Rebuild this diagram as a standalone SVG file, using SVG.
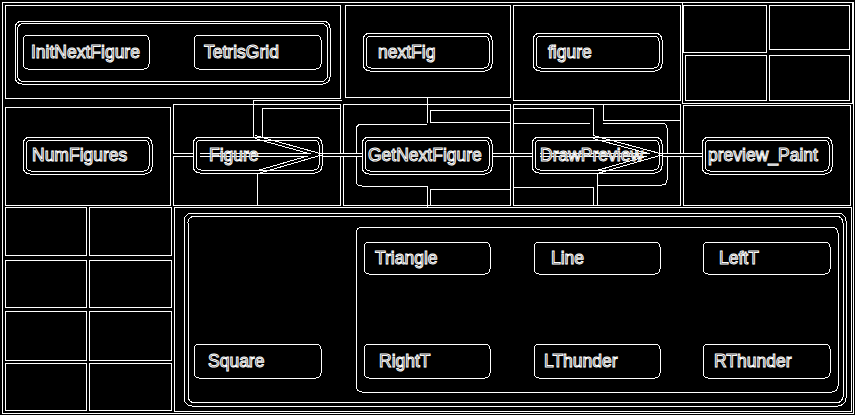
<svg xmlns="http://www.w3.org/2000/svg" xmlns:xlink="http://www.w3.org/1999/xlink" width="855" height="415" viewBox="0 0 855 415">
<style>
.ln{fill:none;stroke:#fff;stroke-width:1;shape-rendering:crispEdges}
.nd{fill:none;stroke:#fff;stroke-width:1;shape-rendering:crispEdges}
.t{font-family:"Liberation Sans",Arial,sans-serif;font-size:17.5px;fill:#000;stroke:#fff;stroke-width:1}
.cw{fill:none;stroke:#fff;stroke-width:4;shape-rendering:crispEdges}
.cb{fill:none;stroke:#000;stroke-width:2;shape-rendering:crispEdges}
</style>
<rect x="0" y="0" width="855" height="415" fill="#000"/>
<g id="cells" class="ln">
<rect x="2" y="2" width="851" height="411"/>
<rect x="5" y="5" width="335" height="93"/>
<rect x="345" y="5" width="165" height="92"/>
<rect x="513" y="5" width="167" height="95"/>
<rect x="682" y="2" width="170" height="101"/>
<rect x="683" y="5" width="83" height="47"/>
<rect x="769" y="5" width="80" height="44"/>
<rect x="685" y="55" width="81" height="45"/>
<rect x="769" y="55" width="80" height="45"/>
<rect x="5" y="107" width="165" height="98"/>
<rect x="173" y="104" width="167" height="101"/>
<rect x="343" y="104" width="167" height="101"/>
<rect x="513" y="104" width="167" height="101"/>
<rect x="683" y="105" width="167" height="100"/>
<rect x="5" y="207" width="81" height="48"/>
<rect x="89" y="207" width="82" height="48"/>
<rect x="5" y="260" width="81" height="47"/>
<rect x="89" y="260" width="82" height="47"/>
<rect x="5" y="311" width="81" height="49"/>
<rect x="89" y="311" width="82" height="49"/>
<rect x="5" y="363" width="81" height="47"/>
<rect x="89" y="363" width="82" height="47"/>
<rect x="174" y="207" width="677" height="204"/>
<path d="M253,138V100H342M262,138V108H340"/>
<path d="M257,173V205"/>
<path d="M427,97V123M430,110H510M430,122H510M430,110V122"/>
<path d="M427,186V207M430,189H510M430,189V205"/>
<path d="M513,108H593V137M513,123H590"/>
<path d="M603,105V120H680"/>
<path d="M597,172V205M513,187H593V205"/>
</g>
<g id="group-top">
<rect class="nd" x="15" y="21" width="315" height="63" rx="7"/>
<rect class="nd" x="17.5" y="23.5" width="310" height="58" rx="6"/>
</g>
<g id="group-shapes">
<rect class="nd" x="184" y="213" width="662" height="193" rx="8"/>
<rect class="nd" x="188" y="216.5" width="655" height="186" rx="6"/>
<rect class="nd" x="356" y="227" width="482" height="165" rx="6"/>
</g>
<g id="group-getnext">
<path class="nd" d="M427,124H362Q356,124 356,130V180Q356,186 362,186H427"/>
</g>
<g id="group-draw">
<path class="nd" d="M603,123H662Q667,123 667,128V180Q667,185 662,185H597"/>
</g>
<g id="connectors">
<path id="c1" d="M173,154.5H193M200,154.5H317M322,154.5H362M492,154.5H532M540,154.5H657M662,154.5H702M255,137L318,154.5L258,172M593,137L658,154.5L597,172"/>
<use xlink:href="#c1" class="cw"/>
<use xlink:href="#c1" class="cb"/>
</g>
<g id="InitNextFigure"><rect class="nd" x="23" y="35" width="126" height="34" rx="5"/><text class="t" x="31" y="58">InitNextFigure</text></g>
<g id="TetrisGrid"><rect class="nd" x="194" y="35" width="127" height="34" rx="5"/><text class="t" x="204" y="58">TetrisGrid</text></g>
<g id="nextFig"><rect class="nd" x="363" y="33" width="129" height="38" rx="7"/><rect class="nd" x="366" y="36" width="123" height="32" rx="5"/><text class="t" x="378" y="58">nextFig</text></g>
<g id="figure"><rect class="nd" x="533" y="33" width="129" height="38" rx="7"/><rect class="nd" x="536" y="36" width="123" height="32" rx="5"/><text class="t" x="548" y="58">figure</text></g>
<g id="NumFigures"><rect class="nd" x="23" y="137" width="129" height="37" rx="7"/><rect class="nd" x="26" y="140" width="123" height="31" rx="5"/><text class="t" x="32" y="161">NumFigures</text></g>
<g id="Figure"><rect class="nd" x="193" y="137" width="129" height="36" rx="7"/><rect class="nd" x="196" y="140" width="123" height="30" rx="5"/><text class="t" x="209" y="161">Figure</text></g>
<g id="GetNextFigure"><rect class="nd" x="362" y="137" width="130" height="37" rx="7"/><rect class="nd" x="365" y="140" width="124" height="31" rx="5"/><text class="t" x="368" y="161">GetNextFigure</text></g>
<g id="DrawPreview"><rect class="nd" x="532" y="137" width="130" height="36" rx="7"/><rect class="nd" x="535" y="140" width="124" height="30" rx="5"/><text class="t" x="540" y="161">DrawPreview</text></g>
<g id="preview_Paint"><rect class="nd" x="702" y="137" width="130" height="37" rx="7"/><rect class="nd" x="705" y="140" width="124" height="31" rx="5"/><text class="t" x="708" y="161">preview_Paint</text></g>
<g id="Triangle"><rect class="nd" x="364" y="242" width="126" height="32" rx="5"/><text class="t" x="375" y="264">Triangle</text></g>
<g id="Line"><rect class="nd" x="534" y="242" width="126" height="32" rx="5"/><text class="t" x="551" y="264">Line</text></g>
<g id="LeftT"><rect class="nd" x="703" y="242" width="127" height="32" rx="5"/><text class="t" x="719" y="264">LeftT</text></g>
<g id="Square"><rect class="nd" x="194" y="344" width="127" height="34" rx="5"/><text class="t" x="208" y="367">Square</text></g>
<g id="RightT"><rect class="nd" x="364" y="344" width="126" height="34" rx="5"/><text class="t" x="379" y="367">RightT</text></g>
<g id="LThunder"><rect class="nd" x="534" y="344" width="126" height="34" rx="5"/><text class="t" x="544" y="367">LThunder</text></g>
<g id="RThunder"><rect class="nd" x="703" y="344" width="127" height="34" rx="5"/><text class="t" x="714" y="367">RThunder</text></g>
</svg>
